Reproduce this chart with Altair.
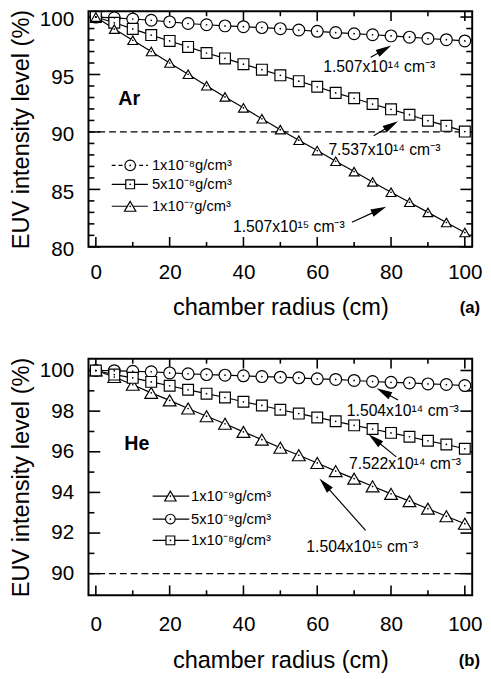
import math
import altair as alt
import pandas as pd

FONT = "Liberation Sans"

radius = list(range(0, 101, 5))

# ---- panel (a): Ar ----
ar_names = ["1x10⁻⁸g/cm³", "5x10⁻⁸g/cm³", "1x10⁻⁷g/cm³"]
ar_circle = [100, 99.93, 99.83, 99.72, 99.58, 99.44, 99.33, 99.23, 99.16, 99.08, 98.99,
             98.87, 98.76, 98.65, 98.55, 98.46, 98.36, 98.25, 98.13, 98.03, 97.92]
ar_square = [100, 99.5, 98.97, 98.43, 97.92, 97.4, 96.87, 96.4, 95.9, 95.42, 94.93,
             94.42, 93.93, 93.4, 92.93, 92.43, 91.97, 91.5, 90.98, 90.53, 90.03]
ar_triangle = [100, 98.95, 97.98, 97.0, 96.0, 95.02, 94.02, 93.05, 92.1, 91.15, 90.2,
               89.28, 88.38, 87.45, 86.55, 85.65, 84.75, 83.88, 83.0, 82.12, 81.25]

ar_note_text = ["1.507x10¹⁴ cm⁻³", "7.537x10¹⁴ cm⁻³", "1.507x10¹⁵ cm⁻³"]
ar_note_x = [76.8, 78.2, 52.3]
ar_note_y = [95.64, 88.38, 81.7]
ar_tail_x = [74.5, 75.3, 69.4]
ar_tail_y = [96.5, 89.66, 82.14]
ar_head_x = [80.05, 81.9, 78.7]
ar_head_y = [97.52, 90.94, 83.5]

# ---- panel (b): He ----
he_names = ["1x10⁻⁹g/cm³", "5x10⁻⁹g/cm³", "1x10⁻⁸g/cm³"]
he_triangle = [100, 99.68, 99.3, 98.9, 98.53, 98.13, 97.75, 97.38, 96.98, 96.6, 96.2,
               95.83, 95.45, 95.05, 94.68, 94.3, 93.93, 93.57, 93.2, 92.83, 92.46]
he_circle = [100, 99.99, 99.96, 99.94, 99.88, 99.84, 99.8, 99.77, 99.74, 99.7, 99.67,
             99.64, 99.59, 99.56, 99.51, 99.46, 99.42, 99.39, 99.34, 99.31, 99.26]
he_square = [100, 99.8, 99.64, 99.44, 99.25, 99.05, 98.86, 98.67, 98.46, 98.28, 98.07,
             97.88, 97.69, 97.5, 97.3, 97.12, 96.93, 96.74, 96.54, 96.36, 96.15]

he_note_text = ["1.504x10¹⁴ cm⁻³", "7.522x10¹⁴ cm⁻³", "1.504x10¹⁵ cm⁻³"]
he_note_x = [83.2, 83.8, 72.2]
he_note_y = [98.02, 95.41, 91.3]
he_tail_x = [81.9, 81.4, 73.1]
he_tail_y = [98.55, 95.75, 92.13]
he_head_x = [76.1, 73.9, 60.6]
he_head_y = [99.13, 96.86, 94.69]

x_major = [0, 20, 40, 60, 80, 100]
x_minor = [10, 30, 50, 70, 90]

W = 391
XDOM = [-2, 102]
ARROW_PATH = "M0,-1L0.5,1L-0.5,1Z"


def panel(names, series, shapes, sizes, ydom, ymaj, ymin, H,
          leg_y, leg_x1, leg_x2, leg_mx, leg_tx, leg_dash,
          nt, nx, ny, tx, ty, hx, hy, gas, gas_x, gas_y, tag, tag_dy,
          lab_pad, title_pad, ylab_off):
    xs = alt.Scale(domain=XDOM, nice=False, zero=False)
    ys = alt.Scale(domain=ydom, nice=False, zero=False)
    rows = []
    for nm, vals in zip(names, series):
        for r, v in zip(radius, vals):
            rows.append({"radius": r, "value": v, "series": nm})
    df = pd.DataFrame(rows)

    X = alt.X("radius:Q", scale=xs, axis=alt.Axis(values=x_major, title="chamber radius (cm)",
                                                  labelPadding=lab_pad, titlePadding=title_pad))
    Y = alt.Y("value:Q", scale=ys, axis=alt.Axis(values=ymaj, title="EUV intensity level (%)",
                                                 labelPadding=15, titlePadding=6,
                                                 labelOffset=ylab_off))

    layers = []
    layers.append(alt.Chart(df).mark_line(color="black", strokeWidth=1.2).encode(
        x=X, y=Y, detail="series:N"))
    layers.append(alt.Chart(pd.DataFrame({"value": [90]})).mark_rule(
        color="black", strokeWidth=1.3, strokeDash=[7, 4]).encode(y=Y))
    for vals, ln in [(x_major, 10), (x_minor, 5)]:
        d = pd.DataFrame({"radius": vals})
        layers.append(alt.Chart(d).mark_rule(color="black", strokeWidth=1.6).encode(
            x=X, y=alt.value(H), y2=alt.value(H - ln)))
        layers.append(alt.Chart(d).mark_rule(color="black", strokeWidth=1.6).encode(
            x=X, y=alt.value(0), y2=alt.value(ln)))
    for vals, ln in [(ymaj, 12), (ymin, 6)]:
        d = pd.DataFrame({"value": vals})
        layers.append(alt.Chart(d).mark_rule(color="black", strokeWidth=1.6).encode(
            y=Y, x=alt.value(0), x2=alt.value(ln)))
        layers.append(alt.Chart(d).mark_rule(color="black", strokeWidth=1.6).encode(
            y=Y, x=alt.value(W), x2=alt.value(W - ln)))
    sx = W / (XDOM[1] - XDOM[0])
    sy = H / (ydom[1] - ydom[0])
    arr, heads = [], []
    for a, b, c, e in zip(tx, ty, hx, hy):
        dxp = (c - a) * sx
        dyp = -(e - b) * sy
        L = math.hypot(dxp, dyp)
        ux, uy = dxp / L, dyp / L
        ang = (math.degrees(math.atan2(dyp, dxp)) + 90) % 360
        cx = c - 8 * ux / sx
        cy = e + 8 * uy / sy
        arr.append({"radius": a, "value": b, "radius2": cx, "value2": cy})
        heads.append({"radius": cx, "value": cy, "ang": ang})
    layers.append(alt.Chart(pd.DataFrame(arr)).mark_rule(color="black", strokeWidth=1.2).encode(
        x=X, y=Y, x2="radius2:Q", y2="value2:Q"))
    layers.append(alt.Chart(pd.DataFrame(heads)).mark_point(
        shape=ARROW_PATH, filled=True, color="black", size=256, opacity=1).encode(
        x=X, y=Y, angle=alt.Angle("ang:Q", scale=None)))
    layers.append(alt.Chart(df).mark_point(filled=True, fill="white", stroke="black",
                                           strokeWidth=1.2, opacity=1).encode(
        x=X, y=Y,
        shape=alt.Shape("series:N", scale=alt.Scale(domain=names, range=shapes), legend=None),
        size=alt.Size("series:N", scale=alt.Scale(domain=names, range=sizes), legend=None)))
    layers.append(alt.Chart(df).mark_circle(size=3, color="black", opacity=1).encode(x=X, y=Y))
    for i in range(len(names)):
        d = pd.DataFrame({"radius": [leg_x1], "radius2": [leg_x2], "value": [leg_y[i]]})
        kw = {"strokeDash": [4, 3]} if leg_dash[i] else {}
        layers.append(alt.Chart(d).mark_rule(color="black", strokeWidth=1.2, **kw).encode(
            x=X, x2="radius2:Q", y=Y))
        dm = pd.DataFrame({"radius": [leg_mx], "value": [leg_y[i]]})
        layers.append(alt.Chart(dm).mark_point(shape=shapes[i], size=sizes[i] * 0.8, filled=True,
                                               fill="white", stroke="black", strokeWidth=1.2,
                                               opacity=1).encode(x=X, y=Y))
        layers.append(alt.Chart(dm).mark_circle(size=3, color="black", opacity=1).encode(x=X, y=Y))
        dt = pd.DataFrame({"radius": [leg_tx], "value": [leg_y[i]], "t": [names[i]]})
        layers.append(alt.Chart(dt).mark_text(font=FONT, fontSize=15, align="left",
                                              baseline="middle", color="black").encode(
            x=X, y=Y, text="t:N"))
    ndf = pd.DataFrame({"radius": nx, "value": ny, "t": nt})
    layers.append(alt.Chart(ndf).mark_text(font=FONT, fontSize=16, align="center",
                                           baseline="middle", color="black").encode(
        x=X, y=Y, text="t:N"))
    gdf = pd.DataFrame({"radius": [gas_x], "value": [gas_y], "t": [gas]})
    layers.append(alt.Chart(gdf).mark_text(font=FONT, fontSize=20, fontWeight="bold",
                                           align="left", baseline="middle", color="black").encode(
        x=X, y=Y, text="t:N"))
    tdf = pd.DataFrame({"t": [tag]})
    layers.append(alt.Chart(tdf).mark_text(font=FONT, fontSize=17, fontWeight="bold",
                                           align="right", baseline="middle", color="black").encode(
        x=alt.value(W + 8), y=alt.value(H + tag_dy), text="t:N"))
    return alt.layer(*layers).properties(width=W, height=H)


top = panel(ar_names, [ar_circle, ar_square, ar_triangle],
            ["circle", "square", "triangle-up"], [144, 100, 169],
            [80, 100.5], [80, 85, 90, 95, 100],
            [v for v in range(81, 100) if v % 5 != 0], 240,
            [87.09, 85.44, 83.53], 4.3, 14.1, 9.3, 15.2, [True, False, False],
            ar_note_text, ar_note_x, ar_note_y, ar_tail_x, ar_tail_y, ar_head_x, ar_head_y,
            "Ar", 6.1, 92.9, "(a)", 62, 15, 14, 3)

bottom = panel(he_names, [he_triangle, he_circle, he_square],
               ["triangle-up", "circle", "square"], [169, 121, 100],
               [88.94, 100.58], [90, 92, 94, 96, 98, 100],
               [91, 93, 95, 97, 99], 241,
               [93.82, 92.69, 91.64], 15.4, 25.3, 20.2, 25.8, [False, False, False],
               he_note_text, he_note_x, he_note_y, he_tail_x, he_tail_y, he_head_x, he_head_y,
               "He", 7.7, 96.38, "(b)", 67, 19, 15, 0)

chart = alt.vconcat(top, bottom, spacing=36).resolve_scale(
    shape="independent", size="independent"
).properties(
    padding={"left": 0, "top": -7, "right": 0, "bottom": 0}
).configure_axis(
    labelFont=FONT, titleFont=FONT, labelFontSize=21, titleFontSize=24,
    labelColor="black", titleColor="black", titleFontWeight="normal",
    ticks=False, tickSize=0, domain=False, grid=False
).configure_view(stroke="black", strokeWidth=2)

chart.save("out.html", embed_options={"renderer": "svg", "actions": False})
